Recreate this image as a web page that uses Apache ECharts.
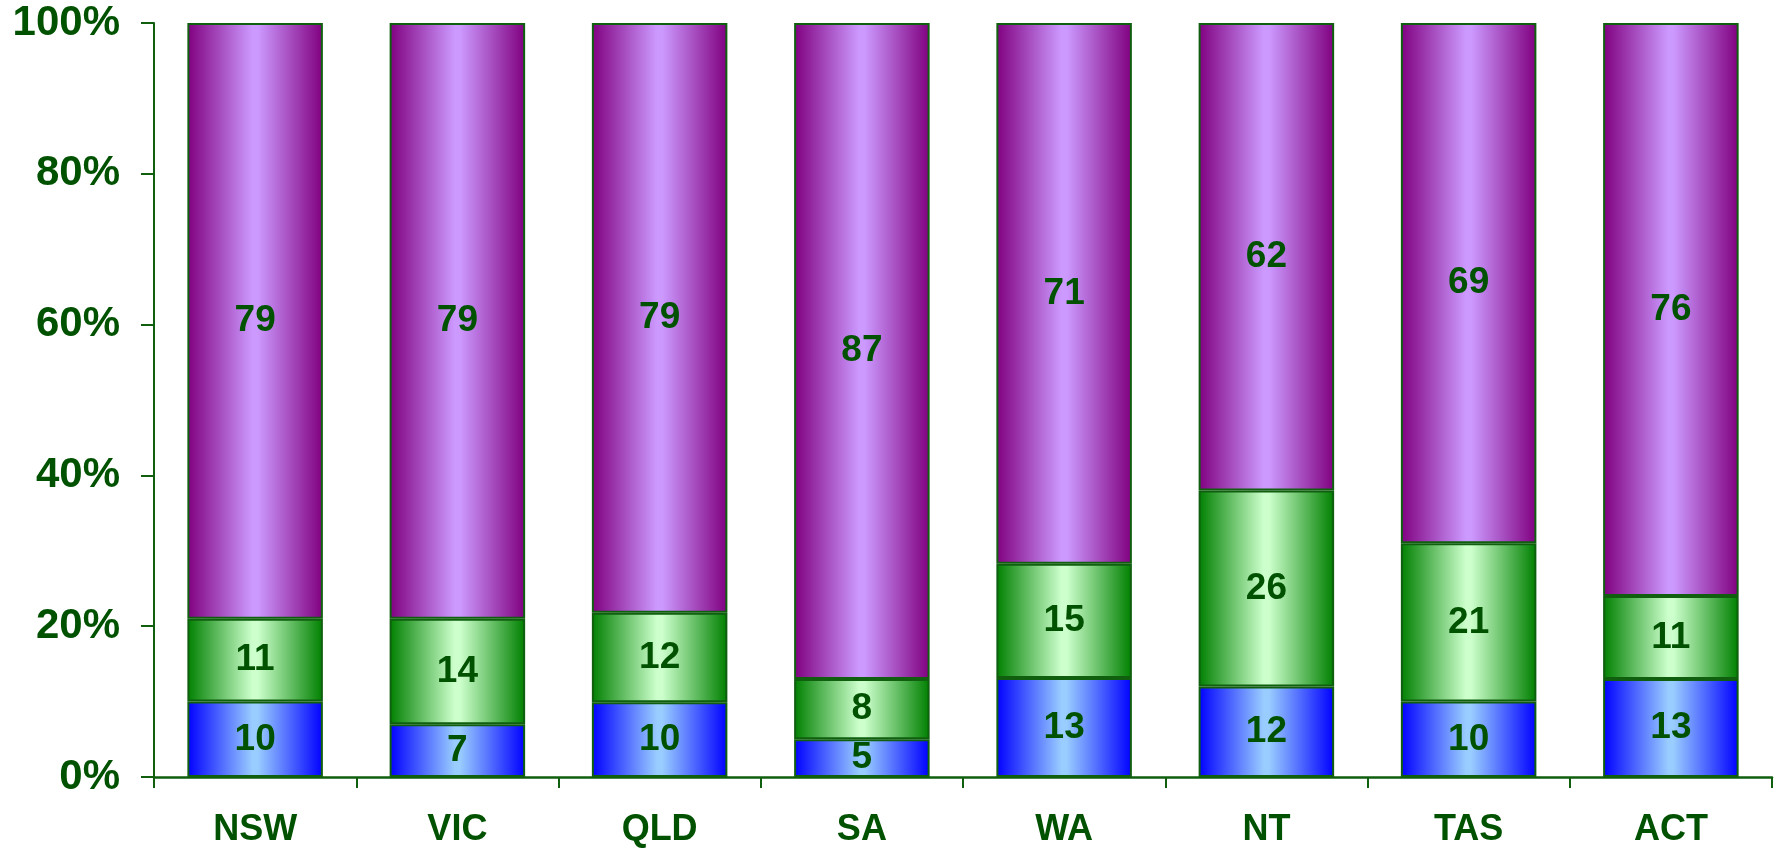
<!DOCTYPE html>
<html>
<head>
<meta charset="utf-8">
<script src="https://cdn.jsdelivr.net/npm/echarts@6/dist/echarts.min.js"></script>
<style>
  html, body { margin: 0; padding: 0; background: #fff; }
  #chart { width: 1775px; height: 848px; }
</style>
</head>
<body>
<div id="chart"></div>
<script>
// states along the x axis
var states = ['NSW', 'VIC', 'QLD', 'SA', 'WA', 'NT', 'TAS', 'ACT'];
// values printed in each segment (bottom to top)
var blueVals = [10, 7, 10, 5, 13, 12, 10, 13];
var greenVals = [11, 14, 12, 8, 15, 26, 21, 11];
var purpleVals = [79, 79, 79, 87, 71, 62, 69, 76];
var yTicks = [0, 20, 40, 60, 80, 100];

var textColor = '#005200';
var lineColor = '#0f5f0f';
var font = 'Liberation Sans, Arial, sans-serif';

// 100% stacked: share of each state's total
var totals = states.map(function (s, i) {
  return blueVals[i] + greenVals[i] + purpleVals[i];
});
function share(arr) {
  return arr.map(function (v, i) { return v / totals[i] * 100; });
}

function tube(edge, mid) {
  return new echarts.graphic.LinearGradient(0, 0, 1, 0, [
    { offset: 0, color: edge },
    { offset: 0.48, color: mid },
    { offset: 0.52, color: mid },
    { offset: 1, color: edge }
  ]);
}

function makeSeries(name, raw, edge, mid) {
  return {
    name: name,
    type: 'bar',
    stack: 'total',
    barWidth: '67%',
    data: share(raw),
    itemStyle: {
      color: tube(edge, mid),
      borderColor: lineColor,
      borderWidth: 2
    },
    label: {
      show: true,
      position: 'inside',
      color: textColor,
      fontFamily: font,
      fontWeight: 'bold',
      fontSize: 37,
      formatter: function (p) { return raw[p.dataIndex]; }
    }
  };
}

var chart = echarts.init(document.getElementById('chart'));
chart.setOption({
  animation: false,
  grid: { left: 154, right: 3, top: 23, bottom: 71 },
  xAxis: {
    type: 'category',
    data: states,
    axisLine: { lineStyle: { color: lineColor, width: 2.5 } },
    axisTick: { show: true, length: 11, lineStyle: { color: lineColor, width: 2 } },
    axisLabel: {
      margin: 35,
      color: textColor,
      fontFamily: font,
      fontWeight: 'bold',
      fontSize: 36
    }
  },
  yAxis: {
    type: 'value',
    min: yTicks[0],
    max: yTicks[yTicks.length - 1],
    interval: yTicks[1] - yTicks[0],
    splitLine: { show: false },
    axisLine: { show: true, lineStyle: { color: lineColor, width: 2 } },
    axisTick: { show: true, length: 13, lineStyle: { color: lineColor, width: 2 } },
    axisLabel: {
      margin: 34,
      color: textColor,
      fontFamily: font,
      fontWeight: 'bold',
      fontSize: 42,
      formatter: '{value}%'
    }
  },
  series: [
    makeSeries('Blue', blueVals, '#0000ff', '#99ccff'),
    makeSeries('Green', greenVals, '#008000', '#ccffcc'),
    makeSeries('Purple', purpleVals, '#800080', '#cc99ff')
  ]
});
</script>
</body>
</html>
